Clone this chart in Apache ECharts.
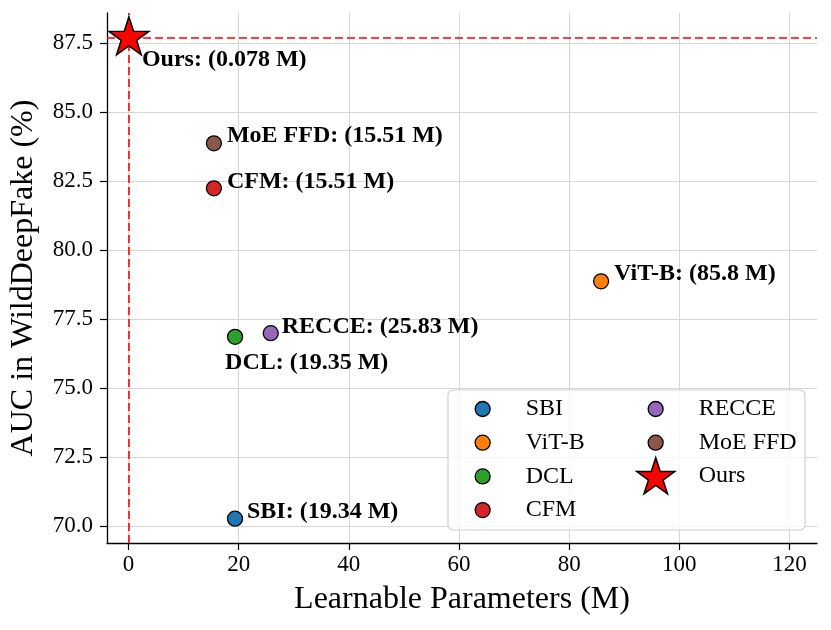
<!DOCTYPE html>
<html>
<head>
<meta charset="utf-8">
<script src="https://cdn.jsdelivr.net/npm/echarts@6/dist/echarts.min.js"></script>
<style>
  html, body { margin: 0; padding: 0; background: #fff; }
  #chart { width: 831px; height: 630px; }
</style>
</head>
<body>
<div id="chart"></div>
<script>
  // data
  const methods = ["SBI", "ViT-B", "DCL", "CFM", "RECCE", "MoE FFD", "Ours"];
  const params = [19.34, 85.8, 19.35, 15.51, 25.83, 15.51, 0.078];
  const auc = [70.28, 78.88, 76.87, 82.25, 77.0, 83.88, 87.7];
  const xTicks = [0, 20, 40, 60, 80, 100, 120];
  const yTicks = [70, 72.5, 75, 77.5, 80, 82.5, 85, 87.5];
  const oursRef = { x: 0.078, y: 87.7 };

  // styling
  const FONT = "Liberation Serif";
  const COLORS = {
    SBI: "#1f77b4", "ViT-B": "#ff7f0e", DCL: "#2ca02c", CFM: "#d62728",
    RECCE: "#9467bd", "MoE FFD": "#8c564b", Ours: "#ff0000"
  };
  const labelOffset = {
    SBI: [12, -7], "ViT-B": [13, -8], DCL: [-10, 26], CFM: [13, -6],
    RECCE: [11, -6], "MoE FFD": [13, -7], Ours: [13, 24]
  };
  const STAR = "path://M100 0 L122.45 69.1 L195.11 69.1 L136.33 111.8 L158.78 180.9 L100 138.2 L41.22 180.9 L63.67 111.8 L4.89 69.1 L77.55 69.1 Z";

  const chart = echarts.init(document.getElementById("chart"));

  const pointSeries = methods.map((name, i) => {
    const isOurs = name === "Ours";
    return {
      name: name,
      type: "scatter",
      z: 5,
      symbol: isOurs ? STAR : "circle",
      symbolSize: isOurs ? [40, 38] : 15,
      symbolOffset: isOurs ? [0, -2] : [0, 0],
      itemStyle: { color: COLORS[name], borderColor: "#000", borderWidth: isOurs ? 1.5 : 1.3, opacity: 1 },
      label: {
        show: true,
        position: ["50%", "50%"],
        align: "left",
        verticalAlign: "middle",
        offset: labelOffset[name],
        formatter: () => name + ": (" + params[i] + " M)",
        fontFamily: FONT,
        fontWeight: "bold",
        fontSize: 24,
        color: "#000"
      },
      emphasis: { disabled: true },
      data: [[params[i], auc[i]]]
    };
  });

  const guideSeries = {
    type: "scatter",
    name: "guides",
    z: 2,
    data: [],
    silent: true,
    markLine: {
      silent: true,
      symbol: ["none", "none"],
      label: { show: false },
      lineStyle: { color: "#ff0000", width: 1.6, type: [8, 4] },
      data: [{ xAxis: oursRef.x }, { yAxis: oursRef.y }]
    }
  };

  const legendText = (padLeft) => ({
    fontFamily: FONT, fontSize: 24, color: "#000", lineHeight: 24, padding: [0, 0, 0, padLeft]
  });
  const legendItem = { borderColor: "#000", borderWidth: 1.3 };

  chart.setOption({
    animation: false,
    backgroundColor: "#fff",
    textStyle: { fontFamily: FONT },
    grid: { left: 107, right: 14, top: 13, bottom: 87 },
    xAxis: {
      type: "value",
      min: -3.9,
      max: 125,
      name: "Learnable Parameters (M)",
      nameLocation: "middle",
      nameGap: 41,
      nameTextStyle: { fontFamily: FONT, fontSize: 32, color: "#000", verticalAlign: "top" },
      axisLine: { show: true, onZero: false, lineStyle: { color: "#000", width: 1.3 } },
      axisTick: { show: true, length: 7, customValues: xTicks, lineStyle: { color: "#000", width: 1.2 } },
      axisLabel: { customValues: xTicks, margin: 10, fontFamily: FONT, fontSize: 23, color: "#000" },
      splitLine: { show: true, lineStyle: { color: "#d6d6d6", width: 1 } }
    },
    yAxis: {
      type: "value",
      min: 69.4,
      max: 88.6,
      name: "AUC in WildDeepFake (%)",
      nameLocation: "middle",
      nameGap: 67,
      nameTextStyle: { fontFamily: FONT, fontSize: 32, color: "#000" },
      axisLine: { show: true, onZero: false, lineStyle: { color: "#000", width: 1.3 } },
      axisTick: { show: true, length: 7, customValues: yTicks, lineStyle: { color: "#000", width: 1.2 } },
      axisLabel: {
        customValues: yTicks, margin: 14, fontFamily: FONT, fontSize: 23, color: "#000",
        formatter: (v) => v.toFixed(1)
      },
      splitLine: { show: true, lineStyle: { color: "#d6d6d6", width: 1 } }
    },
    graphic: [{
      type: "rect",
      z: 8,
      silent: true,
      shape: { x: 448, y: 390, width: 357, height: 140, r: 5 },
      style: { fill: "rgba(255,255,255,0.8)", stroke: "#d0d0d0", lineWidth: 1.2 }
    }],
    legend: [
      {
        z: 10, left: 474.5, top: 397, orient: "vertical", padding: 0,
        itemWidth: 15, itemHeight: 15, itemGap: 9.7,
        selectedMode: false, textStyle: legendText(30.5), itemStyle: legendItem,
        data: ["SBI", "ViT-B", "DCL", "CFM"]
      },
      {
        z: 10, left: 647.5, top: 397, orient: "vertical", padding: 0,
        itemWidth: 15, itemHeight: 15, itemGap: 9.7,
        selectedMode: false, textStyle: legendText(30.5), itemStyle: legendItem,
        data: ["RECCE", "MoE FFD"]
      },
      {
        z: 10, left: 636, top: 457, orient: "vertical", padding: 0,
        itemWidth: 38, itemHeight: 37,
        selectedMode: false, textStyle: legendText(19), itemStyle: { borderColor: "#000", borderWidth: 1.5 },
        data: ["Ours"]
      }
    ],
    series: [guideSeries].concat(pointSeries)
  });
</script>
</body>
</html>
